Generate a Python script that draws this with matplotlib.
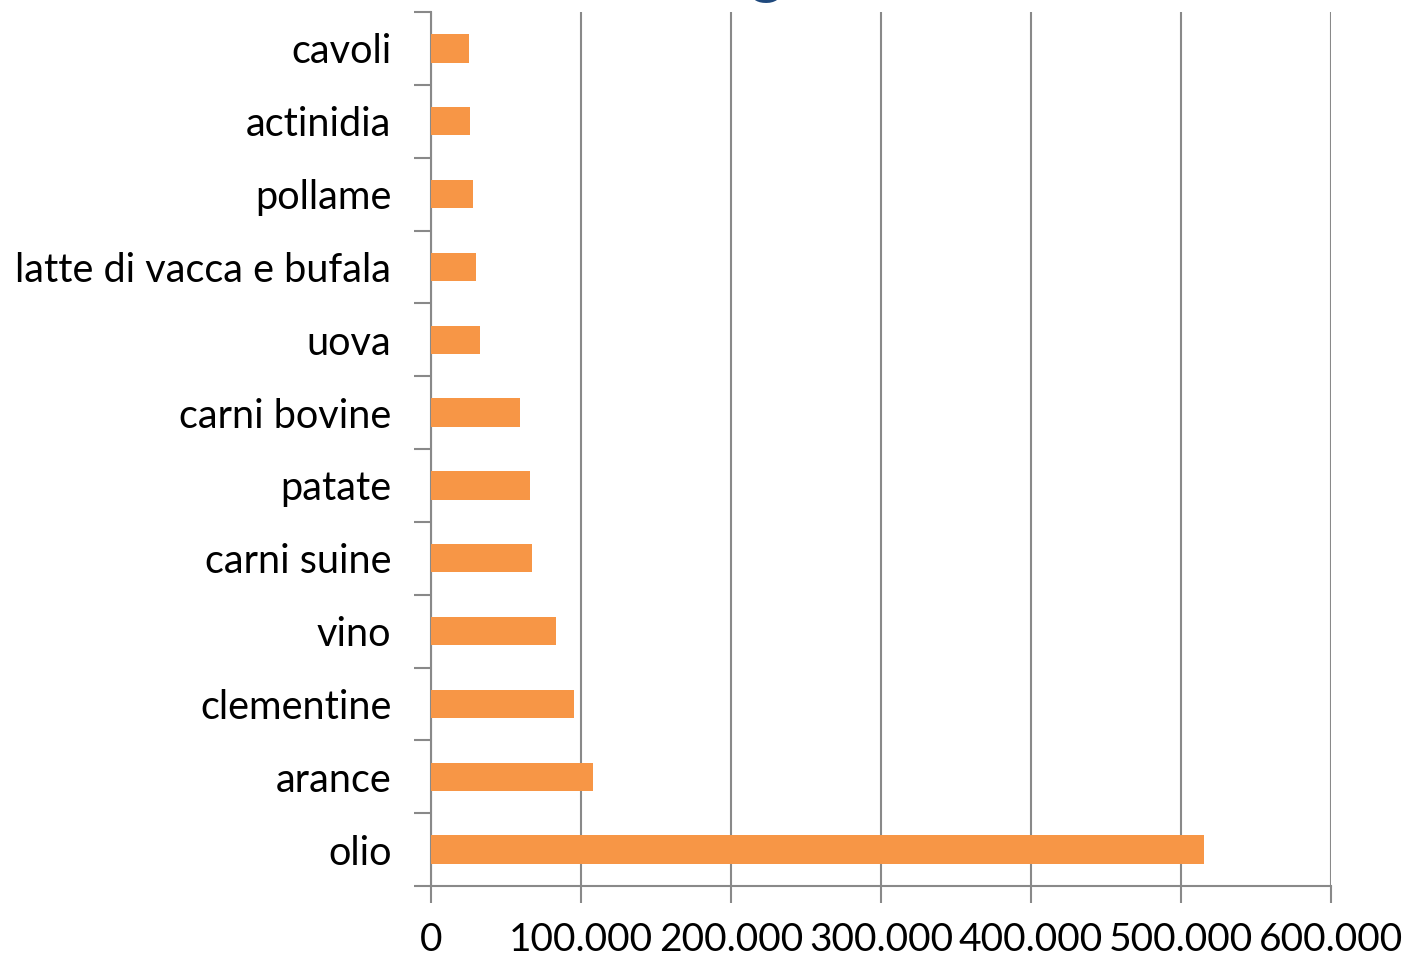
import matplotlib
matplotlib.use("Agg")
import matplotlib.pyplot as plt
import numpy as np

categories = ["olio", "arance", "clementine", "vino", "carni suine", "patate",
              "carni bovine", "uova", "latte di vacca e bufala", "pollame",
              "actinidia", "cavoli"]
values = [515300, 108000, 95300, 83300, 67300, 66000,
          59300, 32700, 30000, 28000, 26000, 25300]
xticks = [0, 100000, 200000, 300000, 400000, 500000, 600000]
xtick_labels = ["0", "100.000", "200.000", "300.000", "400.000", "500.000", "600.000"]

plt.rcParams['font.family'] = ['Lato', 'DejaVu Sans']
W, H = 1402, 959
fig = plt.figure(figsize=(W/100, H/100), dpi=100)
ax = fig.add_axes([431/W, 1-886/H, 900/W, 874/H])

grey = "#898989"
y = np.arange(len(categories))
ax.barh(y, values, height=0.39, color="#F79646", zorder=3)
ax.set_xlim(0, 600000)
ax.set_ylim(-0.5, len(categories)-0.5)

ax.set_xticks(xticks)
ax.set_xticklabels(xtick_labels, fontsize=28)
ax.set_yticks(np.arange(-0.5, len(categories), 1.0))
ax.set_yticklabels([])
ax.set_yticks(y, minor=True)
ax.set_yticklabels(categories, minor=True, fontsize=28.5)
ax.tick_params(axis='y', which='minor', length=0, pad=28.5)
ax.tick_params(axis='y', which='major', length=12, width=1.5, color=grey)
ax.tick_params(axis='x', which='major', length=12, width=1.5, color=grey, pad=14)
ax.xaxis.grid(True, color=grey, linewidth=1.5, zorder=0)
for s in ['top', 'right']:
    ax.spines[s].set_visible(False)
for s in ['left', 'bottom']:
    ax.spines[s].set_color(grey)
    ax.spines[s].set_linewidth(1.5)

# partially visible title glyph at the top edge
fig.text(766/W, 1+9/H, "g", color="#1F497D", fontsize=46, ha='center',
         va='baseline', fontweight='bold')

fig.savefig("out.png", dpi=100)
